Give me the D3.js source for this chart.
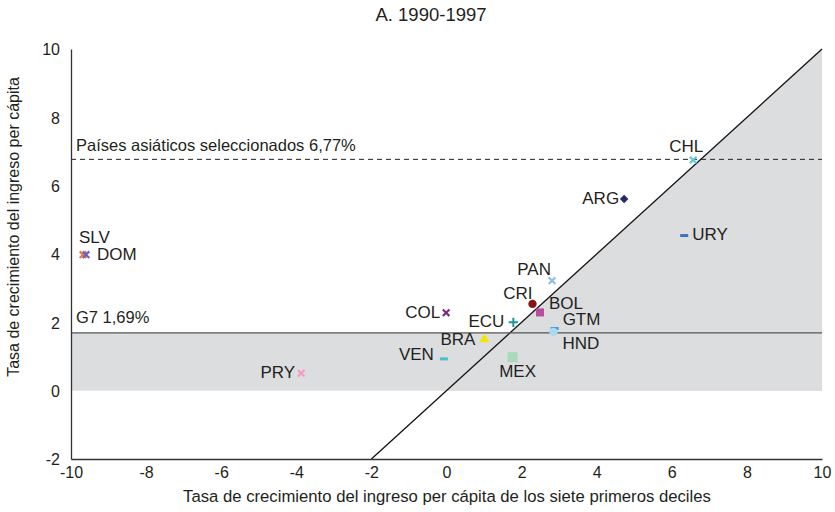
<!DOCTYPE html>
<html>
<head>
<meta charset="utf-8">
<script src="https://cdn.jsdelivr.net/npm/d3@7"></script>
<style>
  body { margin: 0; background: #fff; }
  text { font-family: "Liberation Sans", Arial, sans-serif; fill: #231f20; }
</style>
</head>
<body>
<script>
// countries and their growth rates (x: first seven deciles, y: per capita)
let countries = ["SLV", "DOM", "PRY", "COL", "VEN", "BRA", "ECU", "CRI", "BOL", "PAN", "GTM", "HND", "MEX", "ARG", "URY", "CHL"];
let xValues = [-9.68, -9.60, -3.87, -0.01, -0.07, 1.01, 1.78, 2.29, 2.49, 2.81, 2.88, 2.85, 1.76, 4.73, 6.33, 6.57];
let yValues = [3.98, 3.98, 0.51, 2.28, 0.93, 1.50, 2.00, 2.54, 2.29, 3.22, 1.82, 1.72, 0.98, 5.61, 4.54, 6.75];

let xTicks = [-10, -8, -6, -4, -2, 0, 2, 4, 6, 8, 10];
let yTicks = [-2, 0, 2, 4, 6, 8, 10];

let g7Value = 1.69;
let g7Label = "G7 1,69%";
let asiaValue = 6.77;
let asiaLabel = "Países asiáticos seleccionados 6,77%";

// marker look per country
let shapes = ["x", "x", "x", "x", "dash", "triangle", "plus", "circle", "square", "x", "dash", "circle", "bigsquare", "diamond", "dash", "x"];
let colors = ["#f07a38", "#6b63c4", "#f59bc3", "#7a2a7c", "#4cc0c8", "#f2e600", "#1f9696", "#8a1414", "#b84d9d", "#93bde9", "#3aa2de", "#a9daf2", "#a9d9b9", "#262a6a", "#3e6fc4", "#62c9da"];

// label placement relative to the marker: [anchor, dx, dy]
let labelPos = {
  SLV: ["start", -4, -12], DOM: ["start", 11, 5], PRY: ["end", -6, 5], COL: ["end", -6, 5],
  VEN: ["end", -10, 1], BRA: ["end", -9, 6], ECU: ["end", -9, 5], CRI: ["end", 0, -5],
  BOL: ["start", 9, -3], PAN: ["end", -1, -6], GTM: ["start", 8, -3], HND: ["start", 9, 17],
  MEX: ["middle", 5, 20], ARG: ["end", -5, 5], URY: ["start", 8, 4], CHL: ["middle", -7, -8]
};

let width = 835;
let height = 512;
let margin = { left: 71, right: 13, top: 49, bottom: 53 };

let x = d3.scaleLinear().domain([-10, 10]).range([margin.left, width - margin.right]);
let y = d3.scaleLinear().domain([-2, 10]).range([height - margin.bottom, margin.top]);

let svg = d3.select("body")
  .append("svg")
  .attr("width", width)
  .attr("height", height);

// grey areas: band between 0 and G7, and triangle under the 45 degree line
svg.append("rect")
  .attr("x", x(-10))
  .attr("y", y(g7Value))
  .attr("width", x(10) - x(-10))
  .attr("height", y(0) - y(g7Value))
  .attr("fill", "#dcdddf");

svg.append("path")
  .attr("d", d3.line()([[x(0), y(0)], [x(10), y(0)], [x(10), y(10)]]))
  .attr("fill", "#dcdddf");

// reference lines
svg.append("line")
  .attr("x1", x(-2)).attr("y1", y(-2))
  .attr("x2", x(10)).attr("y2", y(10))
  .attr("stroke", "#111").attr("stroke-width", 1.3);

svg.append("line")
  .attr("x1", x(-10)).attr("x2", x(10))
  .attr("y1", y(g7Value)).attr("y2", y(g7Value))
  .attr("stroke", "#555").attr("stroke-width", 1.3);

svg.append("line")
  .attr("x1", x(-10)).attr("x2", x(10))
  .attr("y1", y(asiaValue)).attr("y2", y(asiaValue))
  .attr("stroke", "#222").attr("stroke-width", 1)
  .attr("stroke-dasharray", "5,4");

svg.append("text")
  .attr("x", x(-10) + 5)
  .attr("y", y(g7Value) - 10)
  .attr("font-size", 16.5)
  .text(g7Label);

svg.append("text")
  .attr("x", x(-10) + 5)
  .attr("y", y(asiaValue) - 8.5)
  .attr("font-size", 16.5)
  .text(asiaLabel);

// axes
let xAxis = d3.axisBottom(x).tickValues(xTicks).tickSize(0).tickPadding(8).tickFormat(function(d) { return String(d); });
let yAxis = d3.axisLeft(y).tickValues(yTicks).tickSize(0).tickPadding(11).tickFormat(function(d) { return String(d); });

let gx = svg.append("g")
  .attr("transform", `translate(0, ${y(-2)})`)
  .call(xAxis);
let gy = svg.append("g")
  .attr("transform", `translate(${x(-10)}, 0)`)
  .call(yAxis);

[gx, gy].forEach(function(g) {
  g.select(".domain").attr("stroke", "#333").attr("stroke-width", 1.3);
  g.selectAll("text")
    .attr("font-size", 16)
    .attr("font-family", "Liberation Sans, Arial, sans-serif")
    .attr("fill", "#231f20");
});
gy.selectAll(".tick text").attr("dy", "0.36em");

// markers
let points = countries.map(function(c, i) {
  return { name: c, x: xValues[i], y: yValues[i], shape: shapes[i], color: colors[i] };
});

let marks = svg.selectAll("g.mark")
  .data(points)
  .enter()
  .append("g")
  .attr("class", "mark")
  .attr("transform", function(d) { return `translate(${x(d.x)}, ${y(d.y)})`; });

marks.each(function(d) {
  let g = d3.select(this);
  if (d.shape === "x") {
    g.append("path")
      .attr("d", d3.symbol(d3.symbolX, 30)())
      .attr("fill", "none")
      .attr("stroke", d.color)
      .attr("stroke-width", 2.2);
  } else if (d.shape === "plus") {
    g.append("path")
      .attr("d", d3.symbol(d3.symbolPlus, 30)())
      .attr("fill", "none")
      .attr("stroke", d.color)
      .attr("stroke-width", 2);
  } else if (d.shape === "dash") {
    g.append("rect")
      .attr("x", -4).attr("y", -1.5)
      .attr("width", 8).attr("height", 3)
      .attr("fill", d.color);
  } else if (d.shape === "square" || d.shape === "bigsquare") {
    let s = d.shape === "square" ? 8 : 10;
    g.append("rect")
      .attr("x", -s / 2).attr("y", -s / 2)
      .attr("width", s).attr("height", s)
      .attr("fill", d.color);
  } else if (d.shape === "diamond") {
    g.append("rect")
      .attr("x", -3).attr("y", -3)
      .attr("width", 6).attr("height", 6)
      .attr("transform", "rotate(45)")
      .attr("fill", d.color);
  } else {
    let type = { circle: d3.symbolCircle, triangle: d3.symbolTriangle }[d.shape];
    let size = { circle: 55, triangle: 45 }[d.shape];
    g.append("path")
      .attr("d", d3.symbol(type, size)())
      .attr("fill", d.color);
  }
});

// country labels
svg.selectAll("text.country")
  .data(points)
  .enter()
  .append("text")
  .attr("class", "country")
  .attr("x", function(d) { return x(d.x) + labelPos[d.name][1]; })
  .attr("y", function(d) { return y(d.y) + labelPos[d.name][2]; })
  .attr("text-anchor", function(d) { return labelPos[d.name][0]; })
  .attr("font-size", 17)
  .text(function(d) { return d.name; });

// titles
svg.append("text")
  .attr("x", 431)
  .attr("y", 21)
  .attr("text-anchor", "middle")
  .attr("font-size", 18.5)
  .text("A. 1990-1997");

svg.append("text")
  .attr("x", 447)
  .attr("y", 502)
  .attr("text-anchor", "middle")
  .attr("font-size", 16.7)
  .text("Tasa de crecimiento del ingreso per cápita de los siete primeros deciles");

svg.append("text")
  .attr("transform", "translate(19, 227) rotate(-90)")
  .attr("text-anchor", "middle")
  .attr("font-size", 16)
  .text("Tasa de crecimiento del ingreso per cápita");
</script>
</body>
</html>
